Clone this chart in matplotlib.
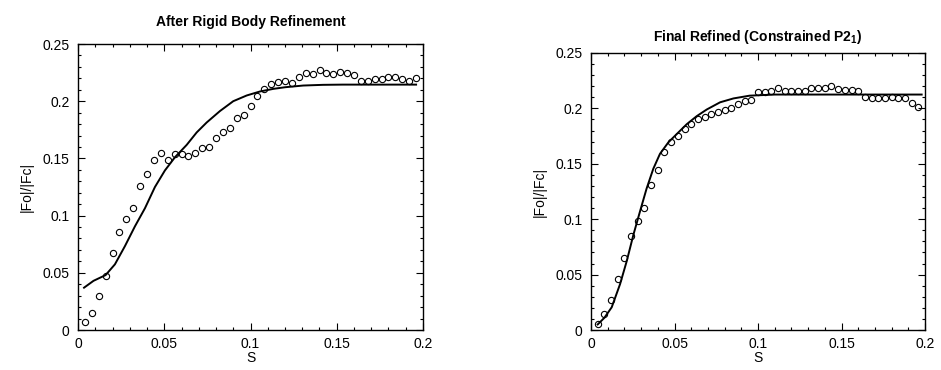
import matplotlib
matplotlib.use("Agg")
import matplotlib.pyplot as plt
from matplotlib.ticker import MultipleLocator, FuncFormatter

plt.rcParams['font.family'] = ['Liberation Sans', 'DejaVu Sans']
plt.rcParams['mathtext.fontset'] = 'custom'
plt.rcParams['mathtext.rm'] = 'Liberation Sans'
plt.rcParams['mathtext.bf'] = 'Liberation Sans:bold'

# ---- left panel: after rigid body refinement ----
rigid_s = [0.004, 0.008, 0.012, 0.016, 0.020, 0.024, 0.028, 0.032, 0.036, 0.040,
           0.044, 0.048, 0.052, 0.056, 0.060, 0.064, 0.068, 0.072, 0.076, 0.080,
           0.084, 0.088, 0.092, 0.096, 0.100, 0.104, 0.108, 0.112, 0.116, 0.120,
           0.124, 0.128, 0.132, 0.136, 0.140, 0.144, 0.148, 0.152, 0.156, 0.160,
           0.164, 0.168, 0.172, 0.176, 0.180, 0.184, 0.188, 0.192, 0.196]
rigid_obs = [0.007, 0.015, 0.030, 0.047, 0.067, 0.086, 0.097, 0.107, 0.126, 0.136,
             0.1485, 0.155, 0.1485, 0.154, 0.154, 0.152, 0.1545, 0.159, 0.160, 0.1675,
             0.173, 0.177, 0.185, 0.188, 0.196, 0.2045, 0.211, 0.215, 0.2165, 0.2174,
             0.216, 0.221, 0.2247, 0.224, 0.227, 0.2247, 0.224, 0.2255, 0.2247, 0.2227,
             0.218, 0.218, 0.2195, 0.219, 0.221, 0.2215, 0.219, 0.2174, 0.220]
rigid_curve_s = [0.0035, 0.009, 0.016, 0.0214, 0.0272, 0.033, 0.0388, 0.0446, 0.0504,
                 0.0562, 0.063, 0.0688, 0.0746, 0.0823, 0.090, 0.0978, 0.1055, 0.1133,
                 0.1200, 0.1306, 0.1420, 0.1536, 0.1750, 0.1960]
rigid_curve = [0.037, 0.043, 0.048, 0.0574, 0.0733, 0.0906, 0.1064, 0.125, 0.1395,
               0.151, 0.1618, 0.1727, 0.1814, 0.1914, 0.200, 0.205, 0.2085, 0.2108,
               0.2122, 0.2137, 0.2143, 0.2145, 0.2145, 0.2145]

# ---- right panel: final refined (constrained P2_1) ----
final_s = rigid_s
final_obs = [0.0057, 0.014, 0.027, 0.0458, 0.0646, 0.0845, 0.0985, 0.1098, 0.131, 0.1446,
             0.1604, 0.170, 0.1753, 0.1812, 0.1863, 0.190, 0.1926, 0.1946, 0.1967, 0.1982,
             0.2006, 0.2036, 0.2065, 0.2080, 0.2146, 0.2152, 0.2155, 0.2182, 0.2158, 0.2155,
             0.2155, 0.216, 0.2182, 0.2185, 0.2182, 0.2205, 0.2176, 0.217, 0.2164, 0.2158,
             0.2104, 0.2092, 0.2098, 0.2098, 0.2104, 0.2098, 0.2092, 0.2045, 0.2015]
final_curve_s = [0.004, 0.008, 0.0124, 0.0174, 0.0214, 0.0254, 0.0293, 0.0333, 0.0373,
                 0.0413, 0.0463, 0.0513, 0.0573, 0.0633, 0.0693, 0.0773, 0.0853, 0.095,
                 0.110, 0.140, 0.170, 0.198]
final_curve = [0.005, 0.011, 0.0205, 0.0414, 0.0622, 0.086, 0.1068, 0.1277, 0.1455,
               0.159, 0.1693, 0.1768, 0.1857, 0.193, 0.199, 0.2055, 0.209, 0.2115,
               0.2125, 0.2125, 0.2125, 0.2125]

x_ticks = [0, 0.05, 0.1, 0.15, 0.2]
y_ticks = [0, 0.05, 0.1, 0.15, 0.2, 0.25]


def fmt(v, pos=None):
    return "0" if v == 0 else ("%g" % v)


def style_axes(ax, title, title_pad):
    ax.set_xlim(0, 0.2)
    ax.set_ylim(0, 0.25)
    ax.set_xticks(x_ticks)
    ax.set_yticks(y_ticks)
    ax.xaxis.set_major_formatter(FuncFormatter(fmt))
    ax.yaxis.set_major_formatter(FuncFormatter(fmt))
    ax.xaxis.set_minor_locator(MultipleLocator(0.01))
    ax.yaxis.set_minor_locator(MultipleLocator(0.01))
    ax.tick_params(which='both', direction='in', top=True, right=True,
                   labelsize=10, width=0.8)
    ax.tick_params(which='major', length=5)
    ax.tick_params(axis='x', which='major', pad=5)
    ax.tick_params(axis='y', which='major', pad=6)
    ax.tick_params(which='minor', length=2.5)
    for sp in ax.spines.values():
        sp.set_linewidth(1.0)
    ax.set_title(title, fontsize=10, fontweight='bold', pad=title_pad)
    ax.set_xlabel("S", fontsize=10, labelpad=0)
    ax.set_ylabel("|Fo|/|Fc|", fontsize=10, labelpad=6)


fig = plt.figure(figsize=(9.41, 3.70), dpi=100)

ax1 = fig.add_axes([78 / 941, 40 / 370, 345 / 941, 286 / 370])
ax1.plot(rigid_curve_s, rigid_curve, color='black', lw=1.4)
ax1.plot(rigid_s, rigid_obs, 'o', mfc='none', mec='black', ms=4.5, mew=0.8)
style_axes(ax1, "After Rigid Body Refinement", 13)

ax2 = fig.add_axes([591 / 941, 40 / 370, 334 / 941, 277 / 370])
ax2.plot(final_curve_s, final_curve, color='black', lw=1.4)
ax2.plot(final_s, final_obs, 'o', mfc='none', mec='black', ms=4.5, mew=0.8)
style_axes(ax2, r"Final Refined (Constrained P2$_\mathbf{1}$)", 9)

fig.savefig("out.png", dpi=100)
